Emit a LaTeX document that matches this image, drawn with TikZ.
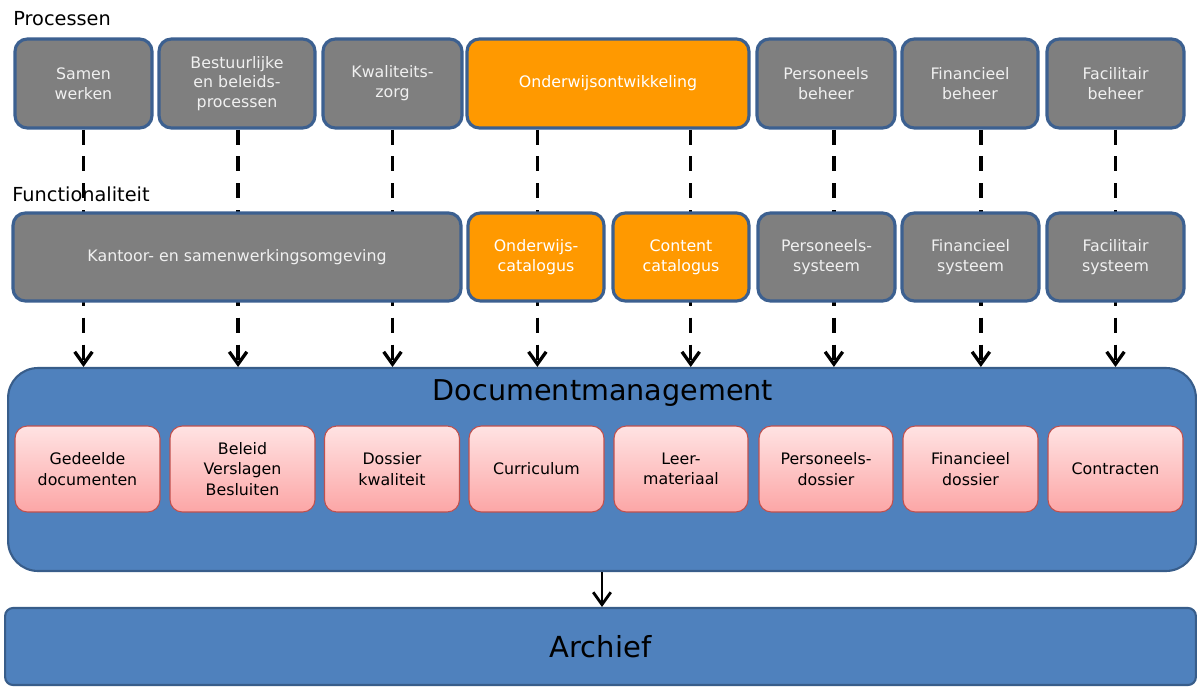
\documentclass[tikz,border=0pt]{standalone}
\usepackage{fontspec}
\setmainfont{DejaVu Sans}
\usetikzlibrary{arrows.meta,backgrounds}

\definecolor{boxgrey}{HTML}{7F7F7F}
\definecolor{boxline}{HTML}{3C6090}
\definecolor{boxorange}{HTML}{FF9900}
\definecolor{dmblue}{HTML}{4F81BD}
\definecolor{dmline}{HTML}{385D8A}
\definecolor{pinktop}{HTML}{FFE3E3}
\definecolor{pinkbot}{HTML}{FCA6A6}
\definecolor{pinkline}{HTML}{C0504D}

\tikzset{
  proc/.style={draw=boxline, line width=1.8pt, fill=boxgrey, rounded corners=7pt,
    text=white!94!black, align=center, inner sep=0pt,
    font=\fontsize{9}{11.3}\selectfont},
  hotproc/.style={proc, fill=boxorange, text=white},
  docbox/.style={draw=pinkline, line width=0.6pt, top color=pinktop, bottom color=pinkbot,
    rounded corners=7pt, align=center, inner sep=0pt, minimum height=1.72cm,
    font=\fontsize{9}{11.6}\selectfont},
  layer/.style={draw=dmline, line width=1.2pt, fill=dmblue},
  rowlabel/.style={anchor=west, inner sep=0pt, font=\fontsize{11}{13}\selectfont},
  flow/.style={line width=1.9pt, dash pattern=on 8.5pt off 6.8pt,
    -{Straight Barb[length=7pt,width=10pt]}},
  feed/.style={line width=1.6pt, -{Straight Barb[length=7pt,width=10pt]}}
}

\begin{document}
\begin{tikzpicture}[x=0.02cm, y=-0.02cm]
\useasboundingbox (0,0) rectangle (1198,687);

% labels
\node[rowlabel] (proclabel) at (13,19) {Processen};
\node[rowlabel] (funclabel) at (12,194) {Functionaliteit};

% processen
\node[proc, minimum width=2.74cm, minimum height=1.78cm] (samen) at (83.5,83.5) {Samen\\werken};
\node[proc, minimum width=3.12cm, minimum height=1.78cm] (bestuur) at (237,83.5) {Bestuurlijke\\en beleids-\\processen};
\node[proc, minimum width=2.78cm, minimum height=1.78cm] (kwaliteit) at (392.5,83.5) {Kwaliteits-\\zorg};
\node[hotproc, minimum width=5.64cm, minimum height=1.78cm] (onderwijs) at (608,83.5) {Onderwijsontwikkeling};
\node[proc, minimum width=2.76cm, minimum height=1.78cm] (personeel) at (826,83.5) {Personeels\\beheer};
\node[proc, minimum width=2.72cm, minimum height=1.78cm] (financieel) at (970,83.5) {Financieel\\beheer};
\node[proc, minimum width=2.74cm, minimum height=1.78cm] (facilitair) at (1115.5,83.5) {Facilitair\\beheer};

% functionaliteit
\node[proc, minimum width=8.96cm, minimum height=1.76cm] (kantoor) at (237,257) {Kantoor- en samenwerkingsomgeving};
\node[hotproc, minimum width=2.72cm, minimum height=1.76cm] (owcat) at (536,257) {Onderwijs-\\catalogus};
\node[hotproc, minimum width=2.72cm, minimum height=1.76cm] (contentcat) at (681,257) {Content\\catalogus};
\node[proc, minimum width=2.74cm, minimum height=1.76cm] (perssys) at (826.5,257) {Personeels-\\systeem};
\node[proc, minimum width=2.74cm, minimum height=1.76cm] (finsys) at (970.5,257) {Financieel\\systeem};
\node[proc, minimum width=2.74cm, minimum height=1.76cm] (facsys) at (1115.5,257) {Facilitair\\systeem};

% documentmanagement
\node[layer, rounded corners=17pt, minimum width=23.76cm, minimum height=4.06cm] (dm) at (602,469.5) {};
\node[font=\fontsize{16.3}{18}\selectfont] (dmtitle) at (603,393) {Documentmanagement};

\node[docbox, minimum width=2.9cm] (gedeeld) at (87.5,469) {Gedeelde\\documenten};
\node[docbox, minimum width=2.9cm] (beleid) at (242.5,469) {Beleid\\Verslagen\\Besluiten};
\node[docbox, minimum width=2.7cm] (dossier) at (392,469) {Dossier\\kwaliteit};
\node[docbox, minimum width=2.7cm] (curriculum) at (536.5,469) {Curriculum};
\node[docbox, minimum width=2.68cm] (leer) at (681,469) {Leer-\\materiaal};
\node[docbox, minimum width=2.68cm] (persdossier) at (826,469) {Personeels-\\dossier};
\node[docbox, minimum width=2.7cm] (findossier) at (970.5,469) {Financieel\\dossier};
\node[docbox, minimum width=2.7cm] (contracten) at (1115.5,469) {Contracten};

% archief
\node[layer, rounded corners=4.5pt, minimum width=23.82cm, minimum height=1.54cm,
  font=\fontsize{16.5}{18}\selectfont] (archief) at (600.5,646.5) {Archief};

% verbindingen (achter de blokken)
\begin{scope}[on background layer]
\draw[flow] (samen.south) -- (samen.south |- dm.north);
\draw[flow] ([xshift=0.6pt]bestuur.south) -- ([xshift=0.6pt]bestuur.south |- dm.north);
\draw[flow] (kwaliteit.south) -- (kwaliteit.south |- dm.north);
\draw[flow] ([xshift=-40.2pt]onderwijs.south) -- ([xshift=-40.2pt]onderwijs.south |- dm.north);
\draw[flow] ([xshift=47.1pt]onderwijs.south) -- ([xshift=47.1pt]onderwijs.south |- dm.north);
\draw[flow] ([xshift=4.5pt]personeel.south) -- ([xshift=4.5pt]personeel.south |- dm.north);
\draw[flow] ([xshift=6.2pt]financieel.south) -- ([xshift=6.2pt]financieel.south |- dm.north);
\draw[flow] (facilitair.south) -- (facilitair.south |- dm.north);
\end{scope}
\draw[feed] (dm.south) -- (dm.south |- archief.north);
\end{tikzpicture}
\end{document}
